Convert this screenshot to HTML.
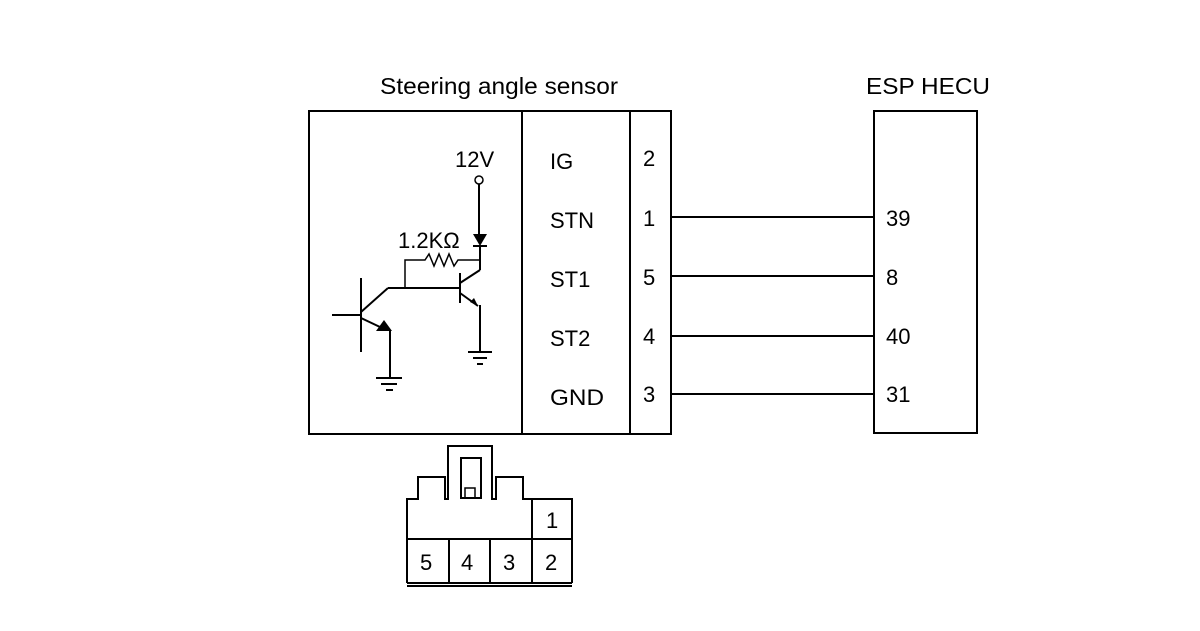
<!DOCTYPE html>
<html><head><style>
html,body{margin:0;padding:0;background:#fff;}
svg text{font-family:"Liberation Sans",Arial,sans-serif;fill:#000;}
</style></head><body>
<svg width="1200" height="626" viewBox="0 0 1200 626" xmlns="http://www.w3.org/2000/svg">
<g stroke="#000" stroke-width="2" fill="none">
<rect x="309" y="111" width="362" height="323"/>
<line x1="522" y1="111" x2="522" y2="434"/>
<line x1="630" y1="111" x2="630" y2="434"/>
<rect x="874" y="111" width="103" height="322"/>
<line x1="671" y1="217" x2="874" y2="217"/>
<line x1="671" y1="276" x2="874" y2="276"/>
<line x1="671" y1="336" x2="874" y2="336"/>
<line x1="671" y1="394" x2="874" y2="394"/>
<!-- circuit -->
<circle cx="479" cy="180" r="4" stroke-width="1.5"/>
<line x1="479" y1="184" x2="479" y2="234"/>
<line x1="480" y1="246" x2="480" y2="270"/>
<line x1="473" y1="246" x2="487" y2="246"/>
<polyline points="405,288 405,260 425,260 429,254 434,266 439,254 444,266 449,254 454,266 458,260 480,260" stroke-width="1.5"/>
<line x1="388" y1="288" x2="460" y2="288"/>
<line x1="460" y1="273" x2="460" y2="303"/>
<line x1="460" y1="283" x2="480" y2="270"/>
<line x1="460" y1="293" x2="478" y2="306"/>
<line x1="480" y1="305" x2="480" y2="352"/>
<line x1="468" y1="352" x2="492" y2="352"/>
<line x1="473" y1="358" x2="487" y2="358"/>
<line x1="477" y1="364" x2="483" y2="364"/>
<line x1="361" y1="278" x2="361" y2="352"/>
<line x1="332" y1="315" x2="361" y2="315"/>
<line x1="361" y1="312" x2="388" y2="288"/>
<line x1="361" y1="318" x2="380" y2="327"/>
<line x1="390" y1="330" x2="390" y2="378"/>
<line x1="376" y1="378" x2="402" y2="378"/>
<line x1="381" y1="384" x2="397" y2="384"/>
<line x1="386" y1="390" x2="393" y2="390"/>
<!-- connector -->
<polyline points="407,583 407,499 418,499 418,477 445,477 445,499 448,499 448,446 492,446 492,499 496,499 496,477 523,477 523,499 572,499 572,583"/>
<rect x="461" y="458" width="20" height="40"/>
<rect x="465" y="488" width="10" height="10" stroke-width="1.5"/>
<line x1="407" y1="539" x2="572" y2="539"/>
<line x1="449" y1="539" x2="449" y2="583"/>
<line x1="490" y1="539" x2="490" y2="583"/>
<line x1="532" y1="499" x2="532" y2="583"/>
<line x1="407" y1="583" x2="572" y2="583"/>
<line x1="407" y1="586" x2="572" y2="586"/>
</g>
<polygon points="473,234 487,234 480,246" fill="#000"/>
<polygon points="376,331 392,331 384,320" fill="#000"/>
<polygon points="478,306 470,302 474,298" fill="#000"/>
<g font-size="23">
<text x="380" y="94" textLength="238" lengthAdjust="spacingAndGlyphs">Steering angle sensor</text>
<text x="866" y="94" textLength="124" lengthAdjust="spacingAndGlyphs">ESP HECU</text>
</g>
<g font-size="22">
<text x="455" y="167">12V</text>
<text x="398" y="248">1.2KΩ</text>
<text x="550" y="169">IG</text>
<text x="550" y="228">STN</text>
<text x="550" y="287">ST1</text>
<text x="550" y="346">ST2</text>
<text x="550" y="405" textLength="54" lengthAdjust="spacingAndGlyphs">GND</text>
<text x="643" y="166">2</text>
<text x="643" y="226">1</text>
<text x="643" y="285">5</text>
<text x="643" y="344">4</text>
<text x="643" y="402">3</text>
<text x="886" y="226">39</text>
<text x="886" y="285">8</text>
<text x="886" y="344">40</text>
<text x="886" y="402">31</text>
<text x="546" y="528">1</text>
<text x="420" y="570">5</text>
<text x="461" y="570">4</text>
<text x="503" y="570">3</text>
<text x="545" y="570">2</text>
</g>
</svg>
</body></html>
